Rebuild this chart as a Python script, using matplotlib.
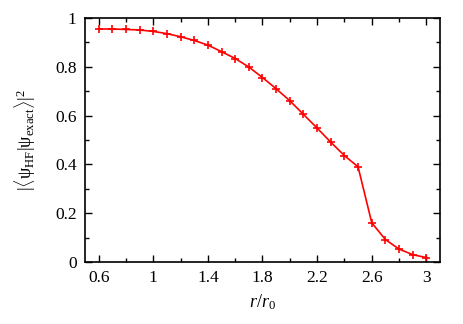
import matplotlib
matplotlib.use("Agg")
import matplotlib.pyplot as plt
from matplotlib.ticker import MultipleLocator

plt.rcParams['font.family'] = ['Liberation Serif', 'DejaVu Serif']
plt.rcParams['mathtext.fontset'] = 'custom'
plt.rcParams['mathtext.rm'] = 'Liberation Serif'
plt.rcParams['mathtext.it'] = 'Liberation Serif:italic'

# overlap of HF and exact wavefunctions vs separation
r = [0.6, 0.7, 0.8, 0.9, 1.0, 1.1, 1.2, 1.3, 1.4, 1.5, 1.6, 1.7, 1.8,
     1.9, 2.0, 2.1, 2.2, 2.3, 2.4, 2.5, 2.6, 2.7, 2.8, 2.9, 3.0]
overlap = [0.955, 0.955, 0.953, 0.951, 0.945, 0.936, 0.923, 0.908, 0.889,
           0.862, 0.834, 0.799, 0.756, 0.710, 0.661, 0.605, 0.549, 0.491,
           0.436, 0.390, 0.161, 0.092, 0.053, 0.030, 0.018]

fig = plt.figure(figsize=(4.63, 3.24), dpi=100)
ax = fig.add_axes([85 / 463, 1 - 262 / 324, 355 / 463, 244 / 324])

ax.plot(r, overlap, color='red', lw=1.2, marker='+', ms=5.5, mew=1.2)

ax.set_xlim(0.5, 3.1)
ax.set_ylim(0, 1)
ax.xaxis.set_minor_locator(MultipleLocator(0.2))
ax.yaxis.set_minor_locator(MultipleLocator(0.1))
ax.set_xticks([0.6, 1.0, 1.4, 1.8, 2.2, 2.6, 3.0])
ax.set_xticklabels(['0.6', '1', '1.4', '1.8', '2.2', '2.6', '3'])
ax.set_yticks([0, 0.2, 0.4, 0.6, 0.8, 1.0])
ax.set_yticklabels(['0', '0.2', '0.4', '0.6', '0.8', '1'])
ax.tick_params(which='both', direction='in', top=True, right=True,
               labelsize=12.5, width=1)
ax.tick_params(which='major', length=5, pad=6)
ax.tick_params(which='minor', length=3)
for s in ax.spines.values():
    s.set_linewidth(1.2)

ax.set_xlabel(r'$r/r_0$', fontsize=13)
ax.set_ylabel(r'$|\langle$ψ$_{\rm HF}|$ψ$_{\rm exact}\rangle|^2$', fontsize=13,
              labelpad=12)

fig.savefig('out.png', dpi=100)
